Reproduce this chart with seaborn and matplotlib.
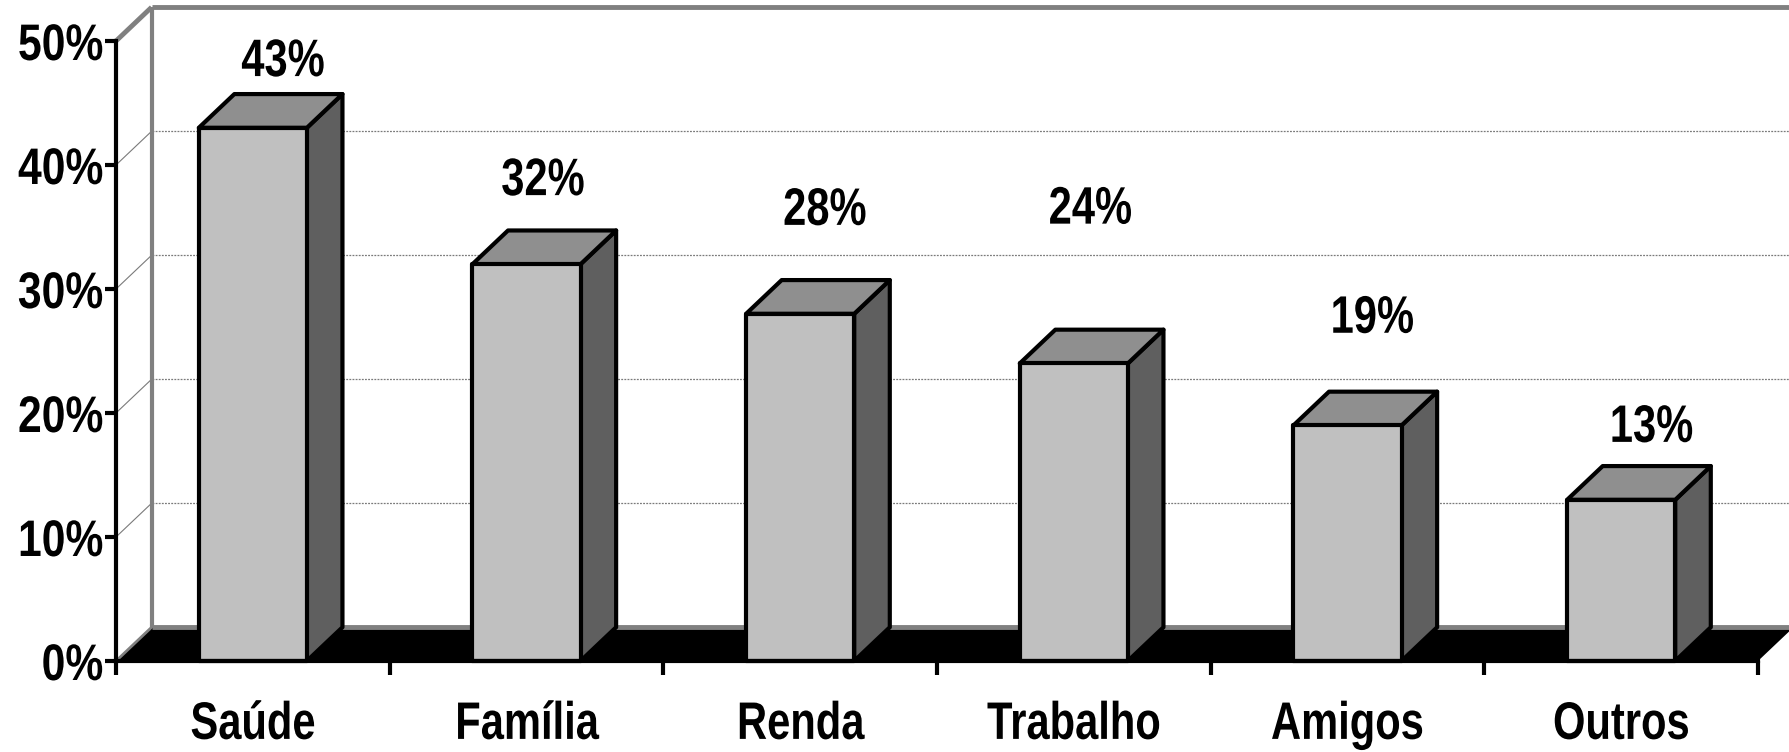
import matplotlib
matplotlib.use("Agg")
import matplotlib.pyplot as plt
from matplotlib import font_manager as fm
from matplotlib.patches import Polygon
from matplotlib.patheffects import AbstractPathEffect
from matplotlib.transforms import Affine2D
import seaborn as sns

# Data
categories = ["Saúde", "Família", "Renda", "Trabalho", "Amigos", "Outros"]
values = [43, 32, 28, 24, 19, 13]
y_ticks = [0, 10, 20, 30, 40, 50]
y_tick_labels = ["0%", "10%", "20%", "30%", "40%", "50%"]

# Layout: where each value label sits (axis units) and its sideways shift
label_y = [48.3, 38.7, 36.3, 36.4, 27.6, 18.8]
label_dx = [0.11, 0.06, 0.09, 0.06, 0.09, 0.11]


class Condense(AbstractPathEffect):
    """Squeeze glyphs horizontally around a chosen anchor (narrow face look)."""

    def __init__(self, sx=0.78, anchor="center"):
        super().__init__()
        self.sx = sx
        self.anchor = anchor

    def draw_path(self, renderer, gc, tpath, affine, rgbFace=None):
        ext = tpath.get_extents(affine)
        if self.anchor == "right":
            cx = ext.x1
        elif self.anchor == "left":
            cx = ext.x0
        else:
            cx = 0.5 * (ext.x0 + ext.x1)
        aff = affine + Affine2D().translate(-cx, 0).scale(self.sx, 1.0).translate(cx, 0)
        renderer.draw_path(gc, tpath, aff, rgbFace)


sns.set_theme(style="white")
names = {f.name for f in fm.fontManager.ttflist}
HAS_NARROW = "Liberation Sans Narrow" in names
family = ["Liberation Sans Narrow", "Liberation Sans", "DejaVu Sans"] if HAS_NARROW \
    else ["Liberation Sans", "DejaVu Sans"]
SQUEEZE = 1.0 if HAS_NARROW else 0.79
SQUEEZE_Y = 1.0 if HAS_NARROW else 0.83
plt.rcParams["font.family"] = family
plt.rcParams["text.color"] = "black"
plt.rcParams["xtick.color"] = "black"
plt.rcParams["ytick.color"] = "black"

FRONT = "#C0C0C0"
TOP = "#8F8F8F"
SIDE = "#5F5F5F"
WALL = "#808080"

# depth of the pseudo-3D box in data units
DX, DY = 0.13, 2.72

W, H = 1789, 752
fig = plt.figure(figsize=(W / 100, H / 100), dpi=100)
ax = fig.add_axes([116 / W, 91 / H, 1642 / W, 620 / H])

bar_w = 0.395
sns.barplot(x=categories, y=values, color=FRONT, saturation=1, width=bar_w,
            edgecolor="black", linewidth=3, ax=ax, zorder=5)
ax.set_xlim(-0.5, 5.5)
ax.set_ylim(0, 50)
ax.set_xlabel("")
ax.set_ylabel("")

x_left, x_right = -0.5, 5.5
ytop = y_ticks[-1]
bars = list(ax.patches)

# floor
floor = Polygon([(x_left, 0), (x_right, 0), (x_right + DX, DY), (x_left + DX, DY)],
                closed=True, facecolor="black", edgecolor="none", zorder=2, clip_on=False)
ax.add_patch(floor)
ax.plot([x_left + DX, x_right + DX + 0.2], [DY, DY], color=WALL, lw=3.5,
        zorder=2.5, clip_on=False, solid_capstyle="butt")
ax.plot([x_left, x_left + DX], [0, DY], color=WALL, lw=2, zorder=2.5, clip_on=False)

# walls
ax.plot([x_left + DX, x_left + DX], [DY, ytop + DY], color=WALL, lw=3,
        zorder=1.5, clip_on=False, solid_capstyle="butt")
ax.plot([x_left + DX, x_right + DX + 0.2], [ytop + DY, ytop + DY], color=WALL, lw=3.5,
        zorder=1.5, clip_on=False, solid_capstyle="butt")
ax.plot([x_left, x_left + DX], [ytop, ytop + DY], color=WALL, lw=3.5, zorder=1.5,
        clip_on=False, solid_capstyle="butt")

# gridlines on the back wall plus their traces on the side wall
for v in y_ticks[1:-1]:
    ax.plot([x_left + DX, x_right + DX + 0.2], [v + DY, v + DY], color="#7A7A7A",
            lw=0.9, ls=(0, (1.5, 1)), zorder=1, clip_on=False)
    ax.plot([x_left, x_left + DX], [v, v + DY], color="#7A7A7A", lw=0.8,
            zorder=1, clip_on=False)

# top and side faces of each bar
for p in bars:
    x0 = p.get_x()
    x1 = x0 + p.get_width()
    h = p.get_height()
    top = Polygon([(x0, h), (x1, h), (x1 + DX, h + DY), (x0 + DX, h + DY)], closed=True,
                  facecolor=TOP, edgecolor="black", lw=3, joinstyle="round",
                  zorder=4, clip_on=False)
    side = Polygon([(x1, 0), (x1 + DX, DY), (x1 + DX, h + DY), (x1, h)], closed=True,
                   facecolor=SIDE, edgecolor="black", lw=3, joinstyle="round",
                   zorder=4, clip_on=False)
    ax.add_patch(side)
    ax.add_patch(top)
    p.set_clip_on(False)
    p.set_joinstyle("round")

# value labels
for i, (v, ly) in enumerate(zip(values, label_y)):
    ax.text(i + label_dx[i], ly, f"{v}%", ha="center", va="center",
            fontsize=38, fontweight="bold", color="black", zorder=6,
            path_effects=[Condense(SQUEEZE, "center")])

# axes styling
for s in ["top", "right"]:
    ax.spines[s].set_visible(False)
for s in ["left", "bottom"]:
    ax.spines[s].set_color("black")
    ax.spines[s].set_linewidth(3)
    ax.spines[s].set_zorder(6)

ax.set_yticks(y_ticks)
ax.set_yticklabels(y_tick_labels, fontsize=37, fontweight="bold", color="black")
ax.tick_params(axis="y", direction="out", length=8, width=3, color="black",
               labelcolor="black", pad=1, left=True)
for lbl in ax.get_yticklabels():
    lbl.set_path_effects([Condense(SQUEEZE_Y, "right")])

ax.set_xticks(range(len(categories)))
ax.set_xticklabels(categories, fontsize=38, fontweight="bold", color="black")
ax.set_xticks([x_left + k for k in range(len(categories) + 1)], minor=True)
ax.tick_params(axis="x", which="major", length=0, pad=28, labelcolor="black")
ax.tick_params(axis="x", which="minor", direction="out", length=10, width=3,
               color="black", bottom=True)
for lbl in ax.get_xticklabels():
    lbl.set_path_effects([Condense(SQUEEZE, "center")])
ax.grid(False)

fig.savefig("out.png", dpi=100, facecolor="white")
